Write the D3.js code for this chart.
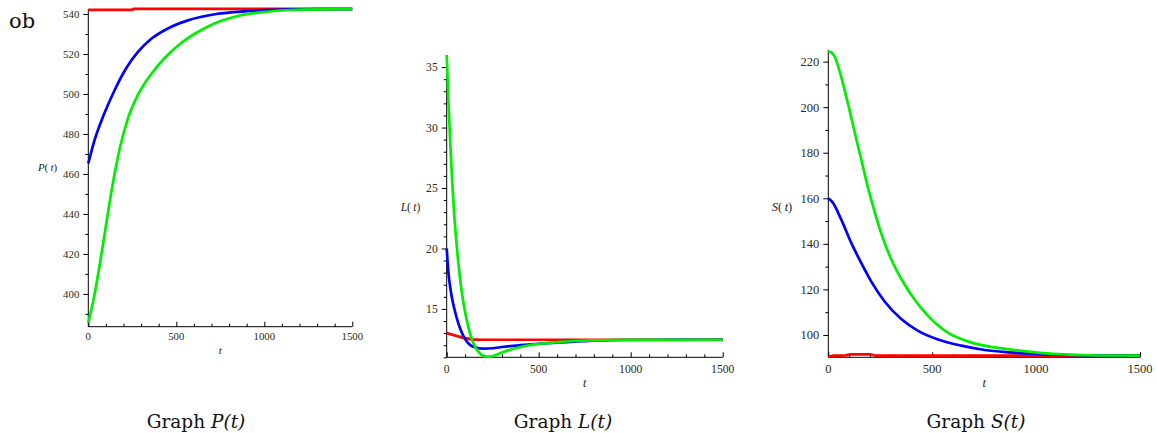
<!DOCTYPE html>
<html>
<head>
<meta charset="utf-8">
<script src="https://cdn.jsdelivr.net/npm/d3@7"></script>
<style>
  html, body { margin: 0; padding: 0; background: #fff; }
  svg { display: block; }
</style>
</head>
<body>
<svg id="chart" width="1157" height="433"></svg>
<script>
// ---------------- DATA ----------------
const xTicks = [0, 500, 1000, 1500];
const xMinorTicks = [100, 200, 300, 400, 600, 700, 800, 900, 1100, 1200, 1300, 1400];

// Graph P(t)
const pYTicks = [400, 420, 440, 460, 480, 500, 520, 540];
const pRedT   = [0, 250, 255, 1500];
const pRed    = [542.1, 542.1, 542.6, 542.6];
const pBlueT  = [0, 36, 84, 150, 216, 282, 358, 453, 566, 727, 900, 1000, 1100, 1300, 1500];
const pBlue   = [465.3, 477, 488.7, 502, 513, 521, 527.6, 532.8, 536.8, 540, 541.4, 541.9, 542.2, 542.4, 542.4];
const pGreenT = [0, 36, 84, 131, 178, 226, 282, 358, 434, 528, 642, 737, 850, 1000, 1150, 1300, 1500];
const pGreen  = [385.5, 400, 425, 451, 472.5, 488, 499.5, 510, 518, 525.5, 532, 536, 539, 541, 542, 542.3, 542.4];

// Graph L(t)
const lYTicks = [15, 20, 25, 30, 35];
const lRedT   = [0, 50, 100, 150, 200, 1500];
const lRed    = [13.0, 12.78, 12.58, 12.46, 12.45, 12.45];
const lBlueT  = [0, 10, 20, 30, 50, 75, 100, 125, 150, 200, 250, 300, 400, 500, 600, 700, 800, 1000, 1500];
const lBlue   = [20, 17.9, 16.7, 15.8, 14.5, 13.3, 12.5, 12.05, 11.85, 11.72, 11.75, 11.85, 12.0, 12.12, 12.22, 12.3, 12.38, 12.43, 12.45];
const lGreenT = [0, 10, 20, 30, 40, 50, 60, 75, 90, 110, 130, 150, 175, 200, 225, 250, 300, 350, 400, 450, 500, 600, 700, 800, 1000, 1500];
const lGreen  = [36, 32, 28.5, 25.5, 23, 21, 19.3, 17.2, 15.6, 14.0, 12.8, 12.0, 11.4, 11.1, 11.05, 11.1, 11.4, 11.65, 11.85, 12.0, 12.1, 12.25, 12.35, 12.4, 12.45, 12.45];

// Graph S(t)
const sYTicks = [100, 120, 140, 160, 180, 200, 220];
const sRedT   = [0, 25, 80, 110, 200, 230, 1500];
const sRed    = [90.3, 90.9, 91.0, 91.5, 91.5, 90.95, 90.9];
const sBlueT  = [0, 20, 63, 111, 159, 207, 271, 351, 432, 528, 640, 753, 865, 1000, 1150, 1300, 1500];
const sBlue   = [160, 158.3, 150.5, 140.3, 131.5, 123.4, 114.7, 107, 101.8, 98, 95.3, 93.4, 92.4, 91.7, 91.2, 91.0, 90.9];
const sGreenT = [0, 15, 30, 60, 100, 140, 160, 190, 220, 255, 300, 350, 415, 480, 575, 670, 770, 865, 950, 1035, 1150, 1300, 1500];
const sGreen  = [224.4, 224, 222.3, 214, 199.5, 184, 176.5, 165, 155, 144.5, 133.8, 124.8, 115.6, 108.4, 101, 97.2, 95, 93.8, 92.8, 92.0, 91.4, 91.0, 90.9];

const captions = ["P", "L", "S"];
const seriesColors = ["#ff0000", "#0000ff", "#00ee00"];

// ---------------- LAYOUT ----------------
const svg = d3.select("#chart");
svg.append("rect").attr("width", 1157).attr("height", 433).attr("fill", "#fff");

const panels = [
  { name: "P", x0: 88.3, x1: 352.3, yDom: [383.6, 542.5], yR: [326.7, 9], yTicks: pYTicks, minorStep: 10,
    fs: 10.8, xlabOff: 9, tlabOff: 23, ylabX: 47.5, ylabY: 167, capX: 196, capY: 428,
    series: [[pRedT, pRed], [pBlueT, pBlue], [pGreenT, pGreen]] },
  { name: "L", x0: 446.7, x1: 722.7, yDom: [11, 36], yR: [357.3, 55], yTicks: lYTicks, minorStep: 1,
    fs: 11.6, xlabOff: 12, tlabOff: 26, ylabX: 410.5, ylabY: 207, capX: 563, capY: 428,
    series: [[lRedT, lRed], [lBlueT, lBlue], [lGreenT, lGreen]] },
  { name: "S", x0: 828.3, x1: 1140, yDom: [90.2, 225.1], yR: [357.3, 50], yTicks: sYTicks, minorStep: 10,
    fs: 12.5, xlabOff: 12, tlabOff: 26, ylabX: 782, ylabY: 207, capX: 976, capY: 428,
    series: [[sRedT, sRed], [sBlueT, sBlue], [sGreenT, sGreen]] }
];

const tickFont = "Liberation Serif";

panels.forEach((p, pi) => {
  const x = d3.scaleLinear().domain([0, 1500]).range([p.x0, p.x1]);
  const y = d3.scaleLinear().domain(p.yDom).range(p.yR);
  const g = svg.append("g");
  const yBase = p.yR[0];

  // x axis (ticks pointing up)
  const xAxis = d3.axisTop(x).tickValues(xTicks).tickSize(5).tickFormat("");
  const gx = g.append("g").attr("transform", `translate(0,${yBase})`).call(xAxis);
  gx.select(".domain").attr("d", `M${p.x0},0H${p.x1}`).attr("stroke", "#000");
  gx.selectAll(".tick line").attr("stroke", "#000");
  const xMinor = d3.axisTop(x).tickValues(xMinorTicks).tickSize(3).tickFormat("");
  const gxm = g.append("g").attr("transform", `translate(0,${yBase})`).call(xMinor);
  gxm.select(".domain").remove();
  gxm.selectAll(".tick line").attr("stroke", "#000");
  // x tick labels
  g.selectAll(".xlab").data(xTicks).enter().append("text")
    .attr("x", d => x(d)).attr("y", yBase + p.xlabOff)
    .attr("text-anchor", "middle").attr("dominant-baseline", "central")
    .style("font-family", tickFont).style("font-size", p.fs + "px").attr("fill", "#2a2a22")
    .text(d => d);

  // y axis (ticks pointing left)
  const yAxis = d3.axisLeft(y).tickValues(p.yTicks).tickSize(5).tickPadding(4)
    .tickFormat(d => d);
  const gy = g.append("g").attr("transform", `translate(${p.x0},0)`).call(yAxis);
  gy.attr("font-family", null).attr("font-size", null);
  gy.select(".domain").attr("d", `M0,${p.yR[0]}V${p.yR[1]}`).attr("stroke", "#000");
  gy.selectAll(".tick line").attr("stroke", "#000");
  gy.selectAll(".tick text").style("font-family", tickFont).style("font-size", p.fs + "px").attr("fill", "#2a2a22");
  const minorVals = d3.range(Math.ceil(p.yDom[0] / p.minorStep) * p.minorStep, p.yDom[1], p.minorStep)
    .filter(v => !p.yTicks.includes(v));
  const yMinor = d3.axisLeft(y).tickValues(minorVals).tickSize(3).tickFormat("");
  const gym = g.append("g").attr("transform", `translate(${p.x0},0)`).call(yMinor);
  gym.select(".domain").remove();
  gym.selectAll(".tick line").attr("stroke", "#000");

  // axis labels
  const ylab = g.append("text").attr("x", p.ylabX).attr("y", p.ylabY)
    .attr("text-anchor", "middle").attr("dominant-baseline", "central")
    .style("font-family", tickFont).style("font-size", p.fs + "px").attr("fill", "#222");
  ylab.append("tspan").attr("font-style", "italic").text(p.name);
  ylab.append("tspan").text("(\u2009");
  ylab.append("tspan").attr("font-style", "italic").text("t");
  ylab.append("tspan").text(")");
  g.append("text").attr("x", (p.x0 + p.x1) / 2).attr("y", yBase + p.tlabOff)
    .attr("text-anchor", "middle").attr("dominant-baseline", "central")
    .style("font-family", tickFont).style("font-size", p.fs + "px").attr("font-style", "italic")
    .attr("fill", "#222").text("t");

  // curves
  const line = d3.line().x(d => x(d[0])).y(d => y(d[1])).curve(d3.curveMonotoneX);
  p.series.forEach((s, si) => {
    const pts = s[0].map((t, i) => [t, s[1][i]]);
    g.append("path").datum(pts).attr("d", line)
      .attr("fill", "none").attr("stroke", seriesColors[si])
      .attr("stroke-width", 2.7).attr("stroke-linejoin", "round");
  });

  // caption
  const cap = svg.append("text").attr("x", p.capX).attr("y", p.capY)
    .attr("text-anchor", "middle")
    .style("font-family", "DejaVu Serif").style("font-size", "18.5px").attr("fill", "#111");
  cap.append("tspan").text("Graph ");
  cap.append("tspan").attr("font-style", "italic").text(captions[pi] + "(t)");
});

// stray text fragment at the top-left
svg.append("text").attr("x", 9).attr("y", 28)
  .style("font-family", "DejaVu Serif").style("font-size", "21px").attr("fill", "#111")
  .text("ob");
</script>
</body>
</html>
